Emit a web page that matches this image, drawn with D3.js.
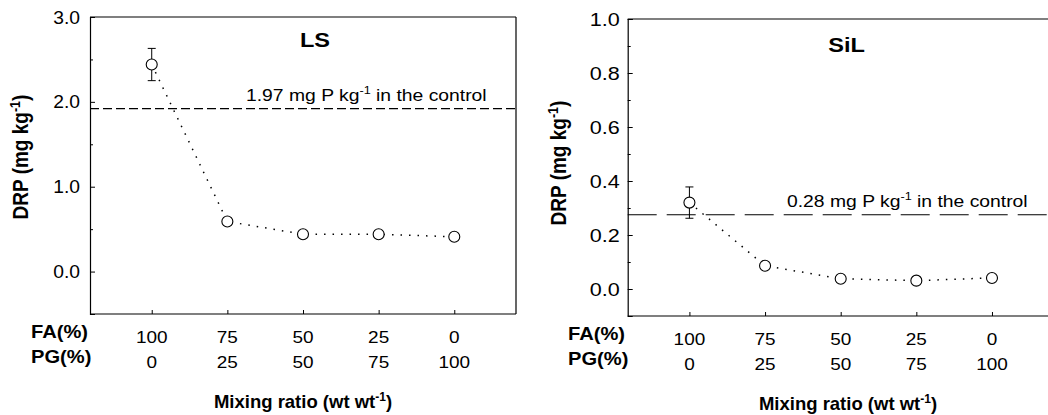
<!DOCTYPE html>
<html lang="en">
<head>
<meta charset="UTF-8">
<title>DRP vs mixing ratio</title>
<script src="https://cdnjs.cloudflare.com/ajax/libs/d3/7.8.5/d3.min.js"></script>
<style>
  body { margin: 0; background: #fff; }
  svg { display: block; }
  text { font-family: Arial, "Liberation Sans", sans-serif; fill: #000; }
  .axis line, .axis path { stroke: #000; }
</style>
</head>
<body>
<svg id="chart" width="1048" height="415"></svg>
<script>
// mixing ratio (tick labels)
const faPct = [100, 75, 50, 25, 0];
const pgPct = [0, 25, 50, 75, 100];

// LS soil
const lsMean = [2.44, 0.59, 0.44, 0.44, 0.41];
const lsErr = [0.19, 0.04, 0.02, 0.02, 0.02];
const lsControl = 1.92;
const lsControlLabel = "1.97";

// SiL soil
const silMean = [0.32, 0.086, 0.038, 0.031, 0.041];
const silErr = [0.058, 0.006, 0.004, 0.004, 0.004];
const silControl = 0.275;
const silControlLabel = "0.28";

const svg = d3.select("#chart");
const SX = 1.15; // the original figure is stretched sideways

// text helper, horizontally stretched like the source picture
function label(g, x, y, anchor, size, weight, sx) {
    return g.append("text")
        .attr("transform", `translate(${x},${y}) scale(${sx || SX},1)`)
        .attr("text-anchor", anchor)
        .style("font-size", size + "px")
        .style("font-weight", weight || "normal");
}

function addSup(t, base, sup, after, supSize) {
    t.append("tspan").text(base);
    t.append("tspan").attr("dy", -7).style("font-size", supSize + "px").text(sup);
    t.append("tspan").attr("dy", 7).text(after);
}

function drawPanel(p) {
    const g = svg.append("g");
    const x = d3.scaleLinear().domain([120.4, -20.4]).range([p.x0, p.x0 + 426]);
    const y = d3.scaleLinear().domain(p.yDomain).range([p.y1, p.y0]);

    // frame: top and right
    g.append("line").attr("x1", p.x0).attr("x2", p.frameRight).attr("y1", p.y0).attr("y2", p.y0)
        .attr("stroke", "#000").attr("stroke-width", 1.2);
    if (p.frameRight < 1048) {
        g.append("line").attr("x1", p.frameRight).attr("x2", p.frameRight).attr("y1", p.y0).attr("y2", p.y1)
            .attr("stroke", "#000").attr("stroke-width", 1.2);
    }

    // y axis, ticks inward
    const yAxis = d3.axisRight(y).tickValues(p.majors).tickSize(5).tickFormat("");
    const ya = g.append("g").attr("class", "axis").attr("transform", `translate(${p.x0},0)`).call(yAxis);
    ya.select(".domain").attr("stroke-width", 1.2);
    g.append("g").attr("class", "axis").attr("transform", `translate(${p.x0},0)`)
        .call(d3.axisRight(y).tickValues(p.minors).tickSize(3).tickFormat(""))
        .select(".domain").remove();
    p.majors.forEach(v => {
        label(g, p.x0 - p.tickGap, y(v) + 6.5, "end", 18, "normal", p.ySX).text(d3.format(".1f")(v));
    });

    // x axis, ticks inward
    const xa = g.append("g").attr("class", "axis").attr("transform", `translate(0,${p.y1})`)
        .call(d3.axisTop(x).tickValues(faPct).tickSize(4).tickFormat(""));
    xa.select(".domain").remove();
    g.append("line").attr("x1", p.x0).attr("x2", p.frameRight).attr("y1", p.y1).attr("y2", p.y1)
        .attr("stroke", "#000").attr("stroke-width", 1.2);

    faPct.forEach((v, i) => {
        label(g, x(v), p.y1 + 29, "middle", 16.5).text(v);
        label(g, x(v), p.y1 + 54, "middle", 16.5).text(pgPct[i]);
    });
    label(g, p.rowX, p.y1 + 24, "start", 17.5, "bold").text("FA(%)");
    label(g, p.rowX, p.y1 + 49, "start", 17.5, "bold").text("PG(%)");

    const xt = label(g, p.xTitleX, p.y1 + 94, "middle", 18.5, "bold", 1.0);
    addSup(xt, "Mixing ratio (wt wt", "-1", ")", 12);

    const yt = g.append("text")
        .attr("transform", `translate(${p.yTitleX},${p.yTitleY}) rotate(-90) scale(1,${SX})`)
        .attr("text-anchor", "middle")
        .style("font-size", "19px").style("font-weight", "bold");
    addSup(yt, "DRP (mg kg", "-1", ")", 12.5);

    // panel title
    label(g, p.titleX, p.titleY, "middle", 20.5, "bold").text(p.title);

    // control line
    g.append("line")
        .attr("x1", p.x0).attr("x2", p.frameRight)
        .attr("y1", y(p.control)).attr("y2", y(p.control))
        .attr("stroke", "#000").attr("stroke-width", 1.1)
        .attr("stroke-dasharray", p.dash);
    const ct = label(g, p.noteX, y(p.control) - 8, "start", 16.8);
    addSup(ct, p.controlLabel + " mg P kg", "-1", " in the control", 11);

    // dotted connecting line
    const pts = faPct.map((v, i) => [x(v), y(p.mean[i])]);
    g.append("path")
        .attr("d", d3.line()(pts))
        .attr("fill", "none").attr("stroke", "#000").attr("stroke-width", 1.5)
        .attr("stroke-dasharray", "1.5,7");

    // error bars
    faPct.forEach((v, i) => {
        const cx = x(v), top = y(p.mean[i] + p.err[i]), bot = y(p.mean[i] - p.err[i]);
        g.append("line").attr("x1", cx).attr("x2", cx).attr("y1", top).attr("y2", bot)
            .attr("stroke", "#000").attr("stroke-width", 1);
        [top, bot].forEach(yy => g.append("line")
            .attr("x1", cx - 4).attr("x2", cx + 4).attr("y1", yy).attr("y2", yy)
            .attr("stroke", "#000").attr("stroke-width", 1));
    });

    // open circles
    g.selectAll("circle.pt").data(p.mean).join("circle")
        .attr("class", "pt")
        .attr("cx", (d, i) => x(faPct[i]))
        .attr("cy", d => y(d))
        .attr("r", 5.5)
        .attr("fill", "#fff").attr("stroke", "#000").attr("stroke-width", 1.1);
}

drawPanel({
    x0: 90, frameRight: 516, y0: 17, y1: 314,
    yDomain: [-0.5, 3.0], majors: [0, 1, 2, 3], minors: [0.5, 1.5, 2.5],
    tickGap: 10, ySX: 1.07, mean: lsMean, err: lsErr,
    control: lsControl, controlLabel: lsControlLabel, dash: "9,4", noteX: 246,
    title: "LS", titleX: 315, titleY: 47,
    rowX: 31, xTitleX: 303, yTitleX: 28, yTitleY: 157
});

drawPanel({
    x0: 627.7, frameRight: 1060, y0: 19, y1: 316,
    yDomain: [-0.1, 1.0], majors: [0, 0.2, 0.4, 0.6, 0.8, 1.0], minors: [0.1, 0.3, 0.5, 0.7, 0.9],
    tickGap: 8, ySX: 1.2, mean: silMean, err: silErr,
    control: silControl, controlLabel: silControlLabel, dash: "29,10", noteX: 787,
    title: "SiL", titleX: 846.5, titleY: 52,
    rowX: 568, xTitleX: 848, yTitleX: 566, yTitleY: 163
});
</script>
</body>
</html>
